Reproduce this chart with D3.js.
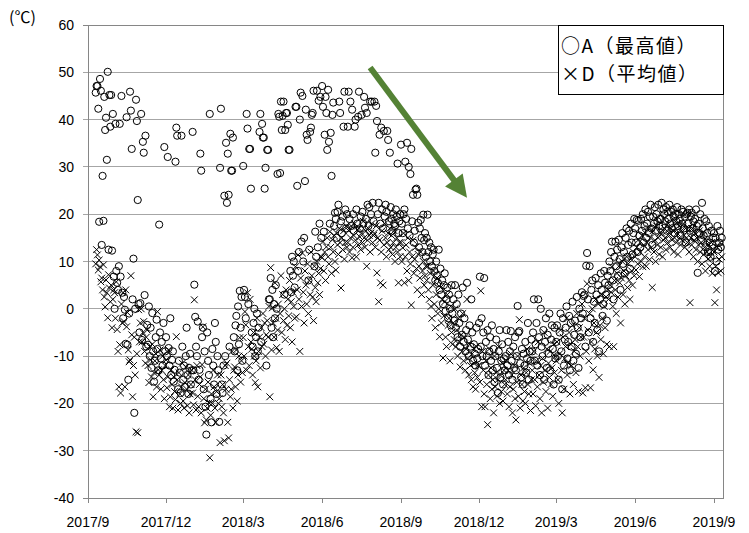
<!DOCTYPE html>
<html><head><meta charset="utf-8">
<script src="https://cdn.jsdelivr.net/npm/d3@7"></script>
<style>body{margin:0;background:#fff}svg{display:block}</style>
</head><body>
<svg id="c" width="749" height="533"></svg>
<script>
// First day of each block of daily values (day k of a block = start + k days)
const monthStarts = ["2017-09-10","2017-10-01","2017-11-01","2017-12-01","2018-01-01","2018-02-01","2018-03-01","2018-04-01","2018-05-01","2018-06-01","2018-07-01","2018-08-01","2018-09-01","2018-10-01","2018-11-01","2018-12-01","2019-01-01","2019-02-01","2019-03-01","2019-04-01","2019-05-01","2019-06-01","2019-07-01","2019-08-01","2019-09-01"];

// D (平均値) daily values, one array per month
const avgTemp = [
 [9.5,12.5,11.4,8.2,10.3,8.9,5.7,6.5,4.0,9.3,2.5,0.4,6.1,3.4,-1.9,7.2,4.4,1.5,5.0,-4.0,2.0],
 [4.0,3.4,-2.0,5.7,-4.4,-9.0,-16.5,-7.6,-17.8,1.0,-3.0,3.4,-2.7,-16.5,4.0,-3.8,-0.8,-8.7,-11.2,-10.8,7.0,-5.5,-18.6,-12.0,-6.0,-14.0,-26.0,-9.5,-26.2,-0.2,-7.0],
 [-3.0,0.0,-7.0,-5.0,-2.7,-9.0,-11.5,-6.0,-4.5,-12.0,-15.6,-8.0,-10.8,-14.4,-7.5,-18.6,-13.5,-11.0,-9.5,-16.5,-0.6,-12.9,-14.0,-8.7,-17.0,-13.0,-10.0,-15.0,-19.0,-12.0],
 [-10.8,-16.7,-14.4,-8.7,-20.7,-18.6,-12.9,-16.0,-21.0,-14.4,-17.5,-19.2,-5.9,-15.0,-21.4,-13.5,-18.0,-20.0,-16.5,-11.5,-19.5,-21.0,-15.6,-12.3,-17.0,-20.5,-14.0,-22.0,-18.0,-16.0,-13.0],
 [-17.8,-20.3,1.9,-15.0,-21.4,-12.0,-18.5,-20.7,-16.0,-14.4,-22.0,-11.8,-3.8,-19.0,-24.1,-17.0,-23.5,-21.0,-15.5,-19.9,-31.5,-22.5,-18.0,-20.0,-13.0,-16.5,-21.0,-24.0,-17.5,-14.0,-20.0],
 [-19.0,-28.3,-14.0,-20.7,-16.0,-22.0,-27.9,-12.0,-17.0,-11.5,-24.0,-27.3,-15.0,-18.6,-17.0,-9.0,-21.0,-13.0,-12.3,-16.5,-8.7,-19.5,-14.0,-10.0,-6.1,-15.5,-11.0,-13.5],
 [-6.1,-10.0,-0.6,-3.4,-13.0,3.4,-8.0,-12.0,2.0,-7.0,-8.5,-14.0,-5.0,-10.0,-15.6,-11.0,-2.0,-16.5,-9.0,-6.0,-12.5,-4.0,-8.0,-1.0,-7.5,-3.0,-10.0,-5.5,-2.5,-6.0,0.5],
 [-18.6,8.7,-8.7,0.2,-3.0,-6.0,5.5,-2.0,-8.2,-4.5,1.0,-9.0,-1.0,7.0,-5.0,3.0,-2.5,0.0,-6.5,4.0,-3.5,2.0,-1.5,6.0,-4.0,1.5,-7.0,3.5,0.5,-2.0],
 [8.9,-1.7,4.0,11.4,2.0,-9.0,6.5,0.5,11.8,3.5,-3.0,8.0,5.0,1.0,9.5,-1.0,6.0,3.0,12.0,7.0,2.5,-2.5,9.0,4.5,1.5,10.0,5.5,7.5,3.0,8.5,11.0],
 [10.8,14.2,8.0,12.0,6.0,13.1,15.0,11.0,9.5,16.3,13.0,7.5,14.6,12.0,15.5,10.0,8.2,16.0,13.5,11.5,17.0,14.0,4.4,15.0,12.5,16.5,10.5,14.0,17.5,13.0],
 [14.0,16.5,12.0,15.0,17.5,10.8,13.0,15.5,18.0,14.5,11.0,16.7,13.5,17.0,15.2,12.5,16.0,14.0,18.5,15.0,13.0,16.5,9.0,14.5,17.0,15.5,12.0,16.0,18.0,14.0,15.5],
 [16.0,13.0,17.5,7.6,15.0,1.5,14.5,5.5,12.0,16.5,5.0,13.5,18.0,15.0,11.0,14.0,16.0,12.5,17.0,13.0,15.5,11.5,14.0,16.5,10.0,13.0,15.0,12.0,5.5,14.0,11.0],
 [14.0,10.0,12.9,16.0,5.5,11.0,13.5,8.0,15.0,6.0,12.0,9.5,0.8,11.0,14.5,7.5,10.5,13.0,8.5,4.0,11.5,9.0,6.5,12.0,3.0,8.0,10.0,5.0,7.0,9.0],
 [6.0,9.0,4.0,2.0,7.5,0.5,-2.0,5.0,8.0,1.0,-4.0,3.0,6.5,-1.0,0.0,-5.9,4.5,-3.0,2.0,-10.4,-1.5,1.5,-6.0,-8.0,3.0,-3.5,-2.0,-11.0,0.5,-5.0,-7.5],
 [-3.0,-6.5,0.0,-8.0,-4.5,-10.0,-2.0,-7.0,-12.3,-5.5,-9.0,-1.0,-11.0,-6.0,-13.0,-8.5,2.0,-10.5,-14.0,-7.5,-12.0,-15.0,-9.5,-16.5,-11.5,-13.5,-17.0,-8.0,-14.5,-12.0],
 [-12.0,-15.5,3.8,-20.7,-9.0,-13.0,-18.0,-20.7,-11.0,-16.0,-24.5,-14.0,-8.5,-19.0,-12.5,-17.0,-15.0,-22.0,-10.0,-16.5,-13.5,-18.5,-15.0,-8.0,-20.0,-14.0,-17.5,-11.5,-19.5,-13.0,-16.0],
 [-15.0,-11.0,-18.0,-13.0,-20.7,-16.5,-9.5,-14.0,-22.0,-17.0,-12.0,-19.0,-23.5,-15.5,-10.0,-18.5,-2.3,-21.0,-14.0,-16.0,-19.5,-12.5,-17.5,-20.0,-13.5,-8.5,-16.0,-18.0,-11.5,-21.5,-15.0],
 [-13.0,-18.0,-9.0,-15.0,-20.5,-11.0,-16.5,-7.0,-14.0,-19.0,-12.0,-22.0,-10.5,-15.5,-5.0,-13.0,-17.5,-8.5,-21.0,-11.5,-14.5,-9.0,-16.0,-12.5,-18.5,-7.5,-13.5,-10.0],
 [-11.0,-7.0,-15.0,-20.0,-9.5,-4.5,-13.0,-22.0,-6.0,-17.0,-10.5,-8.0,-2.0,-14.0,-11.5,-5.0,-18.0,-7.5,-12.0,-3.5,-16.0,-9.0,-6.5,-13.5,-1.0,-8.0,-17.5,-4.0,-10.0,-6.0,1.0],
 [-17.8,-6.0,-2.0,-16.7,-9.0,5.3,-4.5,-11.0,-1.0,-16.7,-7.0,0.0,-12.9,-3.0,-8.5,2.0,-5.0,-10.0,1.0,-14.5,-3.5,-6.5,3.0,-2.0,-9.5,0.5,-4.0,2.5,-7.5,4.0],
 [2.0,-8.0,5.0,3.5,8.9,0.5,-8.0,6.0,4.0,-1.0,7.5,2.5,9.0,5.5,-3.0,6.5,10.0,3.0,8.0,1.0,7.0,11.0,4.5,9.5,6.0,2.0,10.5,8.0,5.0,12.0,7.0],
 [11.0,8.2,13.0,9.5,14.6,6.8,12.0,10.0,15.5,8.9,13.5,11.0,16.0,9.0,14.0,12.5,17.0,10.4,15.0,13.0,4.5,16.5,12.0,14.5,10.0,17.5,13.5,15.0,11.5,16.0],
 [13.0,16.0,11.0,14.5,17.0,15.0,12.5,16.5,14.0,18.0,15.5,13.0,17.0,14.6,16.5,12.0,15.0,18.5,14.0,16.0,11.5,17.5,15.0,13.5,16.5,14.5,18.0,15.5,13.0,17.0,15.0],
 [14.0,16.5,12.0,1.3,15.0,13.5,17.0,11.0,14.5,16.0,12.5,15.0,10.0,13.5,16.5,12.0,14.0,9.5,15.5,11.5,13.0,8.0,14.5,12.0,10.5,13.5,9.0,11.0,14.0,7.5,12.5],
 [12.0,1.3,9.0,4.0,13.0,7.6,10.5,14.0,8.0,11.0]
];

// A (最高値) daily values, one array per month
const maxTemp = [
 [45.7,47.1,47.1,42.3,18.4,48.6,46.1,13.5,28.1,18.6,44.8,37.8,40.4,31.5,50.1,12.5,45.2,38.5,45.2,12.3,41.2],
 [6.8,0.0,39.1,8.0,5.5,4.0,9.0,39.1,6.8,45.0,3.4,-2.0,2.5,-0.2,-7.4,40.5,-7.6,-15.0,-1.0,45.9,41.9,33.8,2.0,10.6,-22.0,0.0,44.2,39.7,23.0,1.0,-5.0],
 [1.2,41.2,-6.6,35.3,33.0,2.9,36.6,-8.0,-3.4,-7.6,0.5,-10.0,-4.0,-12.5,-0.9,-9.0,-15.4,-11.0,-6.0,-2.3,-8.5,-13.0,17.8,-5.0,-10.5,-7.0,-12.0,-3.0,34.2,-9.0],
 [-6.0,-10.0,32.1,-8.3,-12.0,-2.0,-14.0,-10.8,-9.0,-15.4,-12.9,31.1,38.3,36.6,-17.0,-11.0,-13.5,-17.8,36.6,-8.0,-15.0,-12.0,-16.5,-10.0,-4.0,-14.0,-18.0,-12.5,-9.5,-16.0,-13.0],
 [37.4,-13.0,5.1,-1.7,-8.0,-10.0,-2.7,-15.0,-12.9,32.8,29.2,-6.0,-4.0,-17.0,-9.0,-20.7,-26.6,-5.0,-11.0,-14.0,41.2,-19.0,-24.0,-8.5,-12.0,-16.0,-3.0,-7.0,-18.0,-10.0,-13.0],
 [-23.9,29.8,42.3,-16.0,-17.8,-12.0,23.9,-10.0,35.1,22.4,32.8,24.1,-8.0,37.0,29.2,29.2,36.2,-6.0,-9.0,-3.5,-1.5,-13.0,0.5,-7.5,3.8,-4.0,2.5,-11.0],
 [30.2,4.0,2.5,-2.0,41.2,38.1,1.0,33.8,33.8,25.4,-5.0,-8.0,-3.0,0.0,-10.0,-6.0,-1.0,-9.0,-4.0,37.4,41.2,-7.0,39.1,36.2,36.2,25.4,29.8,-12.0,33.6,33.6,2.0],
 [2.0,6.5,-4.0,4.0,-6.0,1.0,-2.0,5.0,0.0,28.5,41.2,40.6,28.7,43.8,37.8,40.8,43.8,3.0,37.8,41.4,41.4,38.9,33.6,33.6,8.0,3.5,11.0,7.0,10.0,4.5],
 [42.7,42.7,26.0,8.0,12.0,40.0,45.7,14.2,45.0,10.0,15.0,27.0,42.1,36.8,35.7,6.0,12.5,37.4,38.3,41.0,41.4,46.1,9.0,16.3,11.0,46.1,13.0,44.0,18.0,44.8,15.0],
 [47.1,42.7,16.3,36.8,44.8,41.4,33.6,46.3,35.3,18.0,37.2,28.1,41.0,43.6,17.5,20.3,19.0,15.0,20.5,22.0,43.8,41.4,18.5,16.0,19.5,38.5,45.9,21.0,17.0,20.0],
 [38.5,45.9,19.0,43.8,17.5,42.1,20.0,16.5,38.5,40.0,21.0,18.0,40.6,45.9,17.0,19.5,41.0,20.5,18.0,44.8,42.5,19.0,41.4,22.0,17.5,21.5,43.8,20.0,43.8,22.4,18.5],
 [43.8,33.0,42.9,39.7,20.0,22.4,36.8,18.0,38.3,21.0,17.0,37.6,19.5,22.0,20.5,37.6,35.7,18.5,33.0,21.5,19.0,16.5,20.0,18.0,17.5,21.0,19.5,30.7,16.0,18.5,20.0],
 [34.7,18.0,16.0,20.0,21.0,31.1,19.0,35.1,17.0,30.0,15.5,28.5,33.8,18.5,24.1,14.0,16.5,25.2,25.4,24.1,18.2,13.0,17.0,18.8,15.0,12.0,19.9,14.5,16.0,11.0],
 [15.0,19.9,12.0,14.0,10.0,13.0,9.0,11.5,12.5,8.0,6.0,10.0,7.0,5.5,12.5,4.0,8.5,3.0,6.0,1.0,5.0,7.5,-0.5,2.0,4.5,-2.0,3.0,0.0,-3.5,5.0,-1.0],
 [2.0,-2.5,5.0,-4.0,1.0,-6.0,3.0,-3.0,-8.0,-1.0,-5.5,4.5,-7.0,-2.0,-9.0,-4.5,5.5,-6.5,-10.0,-3.5,-8.0,2.0,-5.0,-11.0,-7.5,-9.5,-12.0,-4.0,-10.5,-8.5],
 [-3.0,6.8,-8.0,-2.0,-10.0,-5.0,6.5,-12.0,-7.0,-10.0,-4.5,-14.0,-9.0,-6.0,-11.0,-3.5,-13.0,-8.5,-15.5,-10.0,-6.5,-12.5,-17.8,-9.0,-4.5,-14.5,-11.0,-7.5,-16.0,-10.5,-13.0],
 [-10.0,-4.5,-12.0,-7.0,-14.0,-9.0,-4.7,-11.0,-15.0,-8.0,-12.5,-6.0,-13.0,-10.0,0.6,-5.0,-4.7,-11.5,-14.5,-8.5,-16.0,-9.5,-12.0,-7.0,-13.5,-10.5,-3.0,-15.0,-9.0,-11.0,-6.5],
 [-9.0,-5.0,2.0,-11.0,-7.5,-3.0,-12.0,2.0,-6.0,-14.0,0.0,-8.0,-10.0,-4.5,-15.0,-7.0,-2.0,-12.5,-5.5,-9.5,-1.0,-13.0,-6.5,-3.5,-8.5,-16.0,-4.0,-10.5],
 [-7.0,-3.5,-10.0,-15.0,-5.0,-1.0,-9.0,-17.0,-2.0,-12.0,-6.5,-4.0,0.5,-10.5,-7.0,-1.5,-13.0,-3.0,-8.0,1.5,-11.0,-5.5,-2.5,-9.5,2.5,-4.0,-12.5,0.0,-6.0,-2.0,3.5],
 [-1.0,2.7,3.0,-8.0,9.1,11.8,2.0,-5.0,9.0,-2.0,4.0,6.0,-7.0,1.5,-3.0,6.5,3.0,-4.5,5.0,-9.0,2.0,7.5,4.0,-1.5,1.0,8.0,5.5,3.0,-2.5,7.0],
 [5.0,10.0,8.0,12.0,14.2,6.0,2.0,11.0,14.2,9.0,12.5,7.0,14.6,10.5,4.0,13.0,16.0,9.5,12.0,7.5,15.0,17.0,11.0,13.5,16.5,8.5,18.0,14.0,11.5,16.0,19.0],
 [17.0,14.0,18.8,12.0,18.6,15.5,13.0,19.0,16.5,20.0,14.0,17.5,21.0,15.0,18.0,20.5,16.0,19.5,22.0,17.0,13.5,19.5,18.0,21.5,16.5,20.0,18.5,22.0,17.5,19.0],
 [19.0,22.4,17.5,21.0,20.0,18.5,21.5,16.5,20.5,19.0,22.0,18.0,20.5,17.0,21.0,19.5,16.0,20.0,18.5,21.5,17.5,20.0,19.0,15.5,21.0,18.0,20.5,17.0,19.5,14.0,20.0],
 [20.3,18.0,21.0,16.5,19.5,20.3,17.0,18.5,15.0,19.0,21.0,17.5,7.6,18.0,16.0,20.0,14.5,22.4,17.0,15.5,19.0,13.0,18.5,16.0,12.0,17.5,14.0,11.0,16.5,13.5,15.0],
 [16.0,8.0,15.0,10.0,17.5,12.5,14.0,16.5,13.0,15.0]
];

const yTicks = [60,50,40,30,20,10,0,-10,-20,-30,-40];
const xTickDates = ["2017-09-01","2017-12-01","2018-03-01","2018-06-01","2018-09-01","2018-12-01","2019-03-01","2019-06-01","2019-09-01"];
const xTickLabels = ["2017/9","2017/12","2018/3","2018/6","2018/9","2018/12","2019/3","2019/6","2019/9"];
const legendLabels = ["○A（最高値）","×D（平均値）"];
const unitLabel = "(℃)";
const arrowFrom = {date:"2018-07-27", value:51};
const arrowTo = {date:"2018-11-17", value:23.5};

const parse = d3.utcParse("%Y-%m-%d");
function flatten(blocks){
  const out = [];
  blocks.forEach((arr,mi)=>{
    const s = parse(monthStarts[mi]);
    arr.forEach((v,k)=>out.push({date:d3.utcDay.offset(s,k), value:v}));
  });
  return out;
}
const avgData = flatten(avgTemp);
const maxData = flatten(maxTemp);

const L=88, T=25, R=723, B=498;
const svg = d3.select("#c");
const x = d3.scaleUtc().domain([parse("2017-09-01"), parse("2019-09-01")]).range([L,714]);
const y = d3.scaleLinear().domain([-40,60]).range([B,T]);

// gridlines + left ticks
svg.append("g").selectAll("line").data(yTicks).join("line")
  .attr("x1",L-5).attr("x2",R).attr("y1",d=>y(d)).attr("y2",d=>y(d))
  .attr("stroke",d=>(d===60||d===-40)?"#868686":"#a6a6a6").attr("stroke-width",1)
  .attr("shape-rendering","crispEdges");
// frame
svg.append("rect").attr("x",L).attr("y",T).attr("width",R-L).attr("height",B-T)
  .attr("fill","none").attr("stroke","#868686").attr("shape-rendering","crispEdges");
// x ticks
svg.append("g").selectAll("line").data(xTickDates).join("line")
  .attr("x1",d=>Math.round(x(parse(d)))+0.5).attr("x2",d=>Math.round(x(parse(d)))+0.5)
  .attr("y1",B).attr("y2",B+5).attr("stroke","#868686");

const font = "'Liberation Sans', Arial, sans-serif";
svg.append("g").selectAll("text").data(yTicks).join("text")
  .attr("x",74).attr("y",d=>y(d)).attr("dy","0.36em").attr("text-anchor","end")
  .attr("font-family",font).attr("font-size",14).attr("fill","#000").text(d=>d);
svg.append("g").selectAll("text").data(xTickDates).join("text")
  .attr("x",d=>x(parse(d))).attr("y",527).attr("text-anchor","middle")
  .attr("font-family",font).attr("font-size",14).attr("fill","#000")
  .text((d,i)=>xTickLabels[i]);
svg.append("text").attr("x",9).attr("y",23).attr("font-family","'Noto Sans CJK JP', sans-serif")
  .attr("font-size",16).text(unitLabel);

// series A circles
svg.append("g").selectAll("circle").data(maxData).join("circle")
  .attr("cx",d=>x(d.date)).attr("cy",d=>y(d.value)).attr("r",3.6)
  .attr("fill","none").attr("stroke","#000").attr("stroke-width",1);
// series D crosses
const s = 3.4;
svg.append("g").selectAll("path").data(avgData).join("path")
  .attr("transform",d=>`translate(${x(d.date)},${y(d.value)})`)
  .attr("d",`M${-s},${-s}L${s},${s}M${-s},${s}L${s},${-s}`)
  .attr("stroke","#000").attr("stroke-width",1).attr("fill","none");

// arrow
const p0=[x(parse(arrowFrom.date)), y(arrowFrom.value)];
const p1=[x(parse(arrowTo.date)), y(arrowTo.value)];
const dx=p1[0]-p0[0], dy=p1[1]-p0[1], len=Math.hypot(dx,dy);
const ux=dx/len, uy=dy/len, px=-uy, py=ux;
const hl=22, hw=11;
const bx=p1[0]-ux*hl, by=p1[1]-uy*hl;
const green="#548235";
svg.append("line").attr("x1",p0[0]).attr("y1",p0[1]).attr("x2",bx+ux*2).attr("y2",by+uy*2)
  .attr("stroke",green).attr("stroke-width",6);
svg.append("path").attr("d",`M${p1[0]},${p1[1]}L${bx+px*hw},${by+py*hw}L${bx-px*hw},${by-py*hw}Z`)
  .attr("fill",green);

// legend
const lg = svg.append("g");
lg.append("rect").attr("x",558.5).attr("y",25.5).attr("width",165).attr("height",69)
  .attr("fill","#fff").attr("stroke","#000").attr("stroke-width",1);
lg.selectAll("text").data(legendLabels).join("text")
  .attr("x",561).attr("y",(d,i)=>46.5+i*28).attr("dy","0.35em")
  .attr("font-family","'Noto Sans CJK JP', sans-serif").attr("font-size",19)
  .attr("letter-spacing",1.5).attr("fill","#000")
  .text(d=>d);
</script>
</body></html>
